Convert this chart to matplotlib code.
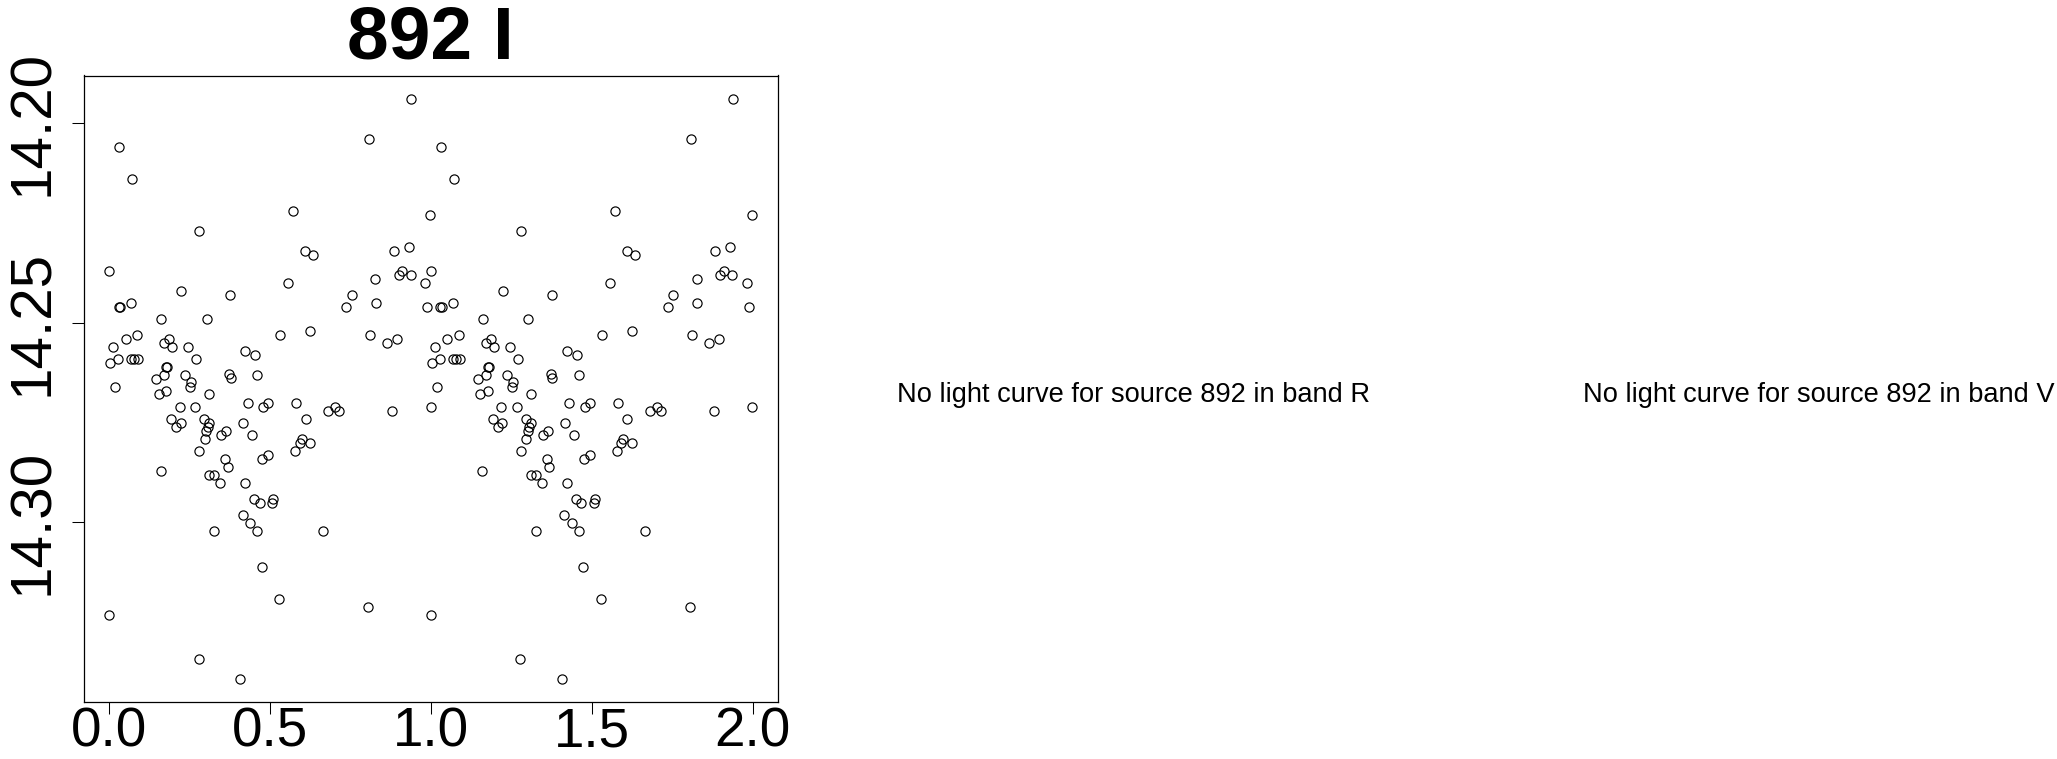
import matplotlib
matplotlib.use("Agg")
import matplotlib.pyplot as plt
import numpy as np

# ---- data (phase in [0,1), magnitude) ----
phase = [0.9379, 0.8075, 0.0311, 0.0702, 0.5702, 0.9978, 0.2795, 0.6087, 0.6335, 0.8839,
         0.9304, 0.0000, 0.9109, 0.8994, 0.9366, 0.8261, 0.9823, 0.5547, 0.7534, 0.7370,
         0.8280, 0.9876, 0.0289, 0.0342, 0.0683, 0.2224, 0.3745, 0.1602, 0.3022, 0.5320,
         0.6230, 0.8115, 0.8634, 0.8944, 0.0506, 0.0863, 0.0118, 0.0025, 0.0273, 0.0683,
         0.0764, 0.0901, 0.1696, 0.1851, 0.1957, 0.2441, 0.2702, 0.4211, 0.4543, 0.1770,
         0.1801, 0.1696, 0.1444, 0.2348, 0.2540, 0.2503, 0.3714, 0.3767, 0.4602, 0.0171,
         0.1770, 0.1531, 0.3093, 0.2183, 0.2665, 0.4295, 0.4776, 0.4938, 0.5795, 0.6102,
         0.6811, 0.7028, 0.7137, 0.8789, 0.9984, 0.1925, 0.2081, 0.2214, 0.2938, 0.3093,
         0.3053, 0.3006, 0.3634, 0.3478, 0.4165, 0.4444, 0.2960, 0.2801, 0.3590, 0.3680,
         0.4745, 0.4938, 0.5786, 0.5919, 0.5981, 0.6252, 0.1593, 0.3109, 0.3261, 0.3435,
         0.4211, 0.4503, 0.4668, 0.5093, 0.5050, 0.4140, 0.4379, 0.4596, 0.3261, 0.6655,
         0.4730, 0.5289, 0.0000, 0.8043, 0.2773, 0.4056]
mag = [14.1941, 14.2040, 14.2060, 14.2141, 14.2221, 14.2231, 14.2271, 14.2320, 14.2331, 14.2320,
       14.2311, 14.2371, 14.2371, 14.2381, 14.2381, 14.2391, 14.2401, 14.2401, 14.2431, 14.2461,
       14.2451, 14.2461, 14.2461, 14.2461, 14.2451, 14.2421, 14.2431, 14.2491, 14.2491, 14.2531,
       14.2521, 14.2531, 14.2551, 14.2541, 14.2541, 14.2531, 14.2561, 14.2601, 14.2591, 14.2591,
       14.2591, 14.2591, 14.2551, 14.2541, 14.2561, 14.2561, 14.2591, 14.2571, 14.2581, 14.2611,
       14.2611, 14.2632, 14.2642, 14.2632, 14.2650, 14.2661, 14.2630, 14.2640, 14.2632, 14.2661,
       14.2671, 14.2680, 14.2680, 14.2712, 14.2712, 14.2702, 14.2712, 14.2702, 14.2702, 14.2742,
       14.2722, 14.2712, 14.2722, 14.2722, 14.2712, 14.2742, 14.2762, 14.2751, 14.2742, 14.2751,
       14.2761, 14.2771, 14.2772, 14.2782, 14.2751, 14.2782, 14.2791, 14.2821, 14.2841, 14.2862,
       14.2842, 14.2832, 14.2821, 14.2801, 14.2791, 14.2801, 14.2872, 14.2882, 14.2882, 14.2902,
       14.2902, 14.2942, 14.2952, 14.2942, 14.2952, 14.2982, 14.3003, 14.3022, 14.3022, 14.3022,
       14.3112, 14.3192, 14.3232, 14.3212, 14.3343, 14.3393]

title = "892 I"
x_ticks = [0.0, 0.5, 1.0, 1.5, 2.0]
x_labels = ["0.0", "0.5", "1.0", "1.5", "2.0"]
y_ticks = [14.20, 14.25, 14.30]
y_labels = ["14.20", "14.25", "14.30"]
messages = ["No light curve for source 892 in band R",
            "No light curve for source 892 in band V"]

# ---- figure ----
W, H = 2057, 759
dpi = 100
fig = plt.figure(figsize=(W / dpi, H / dpi), dpi=dpi)
plt.rcParams['font.family'] = ['Liberation Sans', 'DejaVu Sans']

left, right, top, bottom = 83.6, 778.0, 75.5, 701.7
ax = fig.add_axes([left / W, (H - bottom) / H, (right - left) / W, (bottom - top) / H])

ph = np.array(phase)
mg = np.array(mag)
ax.plot(np.concatenate([ph, ph + 1.0]), np.concatenate([mg, mg]),
        linestyle='none', marker='o', markersize=6.6, markerfacecolor='none',
        markeredgecolor='black', markeredgewidth=0.85)

# R-style 4% range extension
xr = (0.0, 1.9984)
dx = (xr[1] - xr[0]) * 0.04
ax.set_xlim(xr[0] - dx, xr[1] + dx)
ax.set_ylim(14.3450, 14.1881)

ax.set_xticks(x_ticks)
ax.set_xticklabels(x_labels)
ax.set_yticks(y_ticks)
ax.set_yticklabels(y_labels, rotation=90, va='center')

for s in ax.spines.values():
    s.set_linewidth(0.9)
    s.set_color('black')

ax.tick_params(axis='both', direction='out', length=8.6, width=0.75, colors='black')
ax.tick_params(axis='x', pad=-5, labelsize=39.5)
ax.tick_params(axis='y', pad=8.5, labelsize=42)

ax.set_title(title, fontsize=54, fontweight='bold', pad=12)

# messages for empty panels
fig.text(1133.3 / W, (H - 401.7) / H, messages[0], ha='center', va='baseline', fontsize=19.6)
fig.text(1818.3 / W, (H - 401.7) / H, messages[1], ha='center', va='baseline', fontsize=19.6)

fig.savefig("out.png", dpi=dpi)
